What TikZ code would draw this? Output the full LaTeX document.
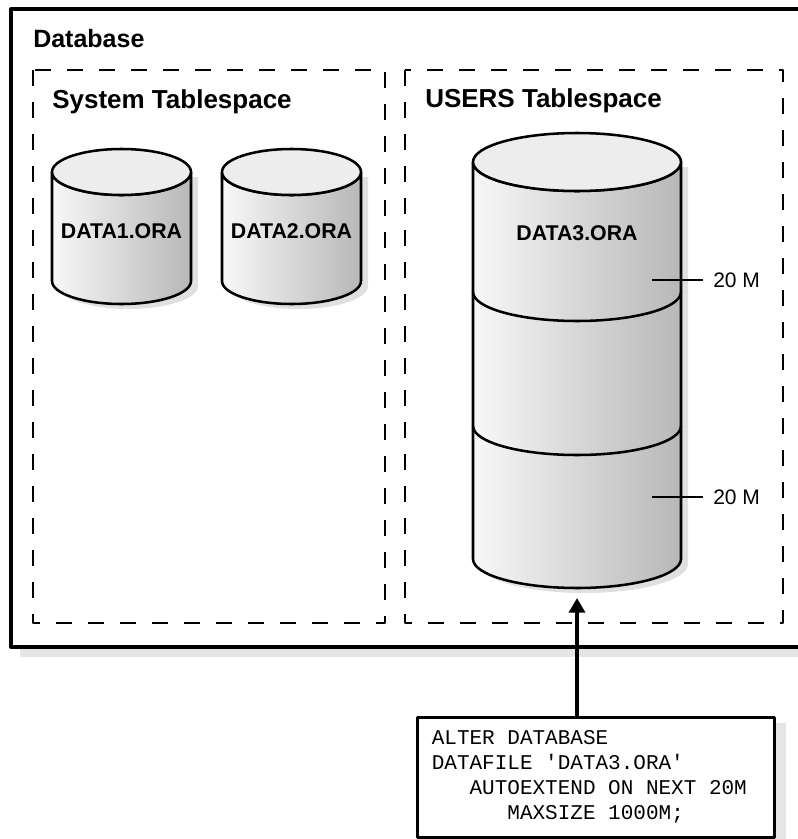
\documentclass[tikz,border=0pt]{standalone}
\usepackage{fontspec}
\setmainfont{Liberation Sans}
\setmonofont{Liberation Mono}
\usetikzlibrary{arrows.meta}
\newcommand\sqlfont{\ttfamily\fontsize{15.75}{18.75}\selectfont}
\newcommand\sqlgap{\hspace*{\fontcharwd\font`\A}}

\begin{document}
\begin{tikzpicture}[x=0.75pt,y=-0.75pt,join=round,% database with three datafiles
        dbframe/.style={draw=black,line width=2.5pt,fill=white},
        tsframe/.style={draw=black,line width=1.6pt,dash pattern=on 12pt off 12pt},
        cylbody/.style={draw=black,line width=1.9pt,left color=black!3,right color=black!28},
        cyltop/.style={draw=black,line width=1.9pt,fill=black!7},
        cylshade/.style={fill=black!12},
        cylline/.style={draw=black,line width=1.9pt},
        dbtitle/.style={font=\bfseries\fontsize{18.75}{22}\selectfont,inner sep=0pt,anchor=base west},
        tstitle/.style={font=\bfseries\fontsize{19.5}{23}\selectfont,inner sep=0pt,anchor=base west},
        filelabel/.style={font=\bfseries\fontsize{16}{19}\selectfont,inner sep=0pt},
        sizelabel/.style={font=\fontsize{15.75}{19}\selectfont,anchor=west,inner xsep=7.5pt,inner ysep=0pt},
        tick/.style={draw=black,line width=0.8pt},
        feed/.style={draw=black,line width=3pt,-{Triangle[length=11pt,width=12pt]}},
        codebox/.style={draw=black,line width=2.5pt,fill=white,anchor=north west,font=\sqlfont,
          align=left,text width=246pt,inner xsep=11pt,minimum height=90pt}]
        \useasboundingbox (0,0) rectangle (798,839);
        \clip (0,0) rectangle (798,839);
        % database frame
        \fill[black!10] (20,649) rectangle (830,657);
        \draw[dbframe] (11,9) rectangle (830,647);
        \node[dbtitle] (dbname) at (33,47) {Database};
        % tablespaces
        \draw[tsframe] (33,70) rectangle (385,623);
        \draw[tsframe] (405,70) rectangle (783,623);
        \node[tstitle] (systs) at (52,108) {System Tablespace};
        \node[tstitle] (usrts) at (425,107) {USERS Tablespace};
        % DATA1.ORA
        \fill[cylshade,shift={(7,5)}] (52,172) -- (52,281) arc[start angle=180,end angle=0,x radius=69.5,y radius=23] -- (191,172) -- cycle;
        \path[cylbody] (52,172) -- (52,281) arc[start angle=180,end angle=0,x radius=69.5,y radius=23] -- (191,172) arc[start angle=0,end angle=180,x radius=69.5,y radius=23] -- cycle;
        \filldraw[cyltop] (121.5,172) ellipse [x radius=69.5,y radius=23];
        % DATA2.ORA
        \fill[cylshade,shift={(7,5)}] (222,172) -- (222,281) arc[start angle=180,end angle=0,x radius=69.5,y radius=23] -- (361,172) -- cycle;
        \path[cylbody] (222,172) -- (222,281) arc[start angle=180,end angle=0,x radius=69.5,y radius=23] -- (361,172) arc[start angle=0,end angle=180,x radius=69.5,y radius=23] -- cycle;
        \filldraw[cyltop] (291.5,172) ellipse [x radius=69.5,y radius=23];
        % DATA3.ORA, two 20M extents
        \fill[cylshade,shift={(7,5)}] (473,162) -- (473,559) arc[start angle=180,end angle=0,x radius=104,y radius=29] -- (681,162) -- cycle;
        \path[cylbody] (473,162) -- (473,559) arc[start angle=180,end angle=0,x radius=104,y radius=29] -- (681,162) arc[start angle=0,end angle=180,x radius=104,y radius=29] -- cycle;
        \filldraw[cyltop] (577,162) ellipse [x radius=104,y radius=29];
        \draw[cylline] (473,292) arc[start angle=180,end angle=0,x radius=104,y radius=29];
        \draw[cylline] (473,426) arc[start angle=180,end angle=0,x radius=104,y radius=29];
        \node[filelabel] (data1) at (121.5,231) {DATA1.ORA};
        \node[filelabel] (data2) at (291.5,231) {DATA2.ORA};
        \node[filelabel] (data3) at (577,233) {DATA3.ORA};
        \coordinate (ext1mid) at (652,280);
        \coordinate (ext2mid) at (652,497);
        \node[sizelabel] (ext1size) at (703,280) {20 M};
        \node[sizelabel] (ext2size) at (703,497) {20 M};
        \draw[tick] (ext1mid) -- (ext1size);
        \draw[tick] (ext2mid) -- (ext2size);
        % statement
        \fill[black!10] (423,723) rectangle (786,839);
        \coordinate (data3foot) at (577,598);
        \node[codebox] (alter) at (415.5,715.5) {ALTER\sqlgap DATABASE\\
          DATAFILE\sqlgap 'DATA3.ORA'\\
          \sqlgap\sqlgap\sqlgap AUTOEXTEND\sqlgap ON\sqlgap NEXT\sqlgap 20M\\
          \sqlgap\sqlgap\sqlgap\sqlgap\sqlgap\sqlgap MAXSIZE\sqlgap 1000M;};
        \draw[feed] (alter.north -| data3foot) -- (data3foot);
\end{tikzpicture}
\end{document}
